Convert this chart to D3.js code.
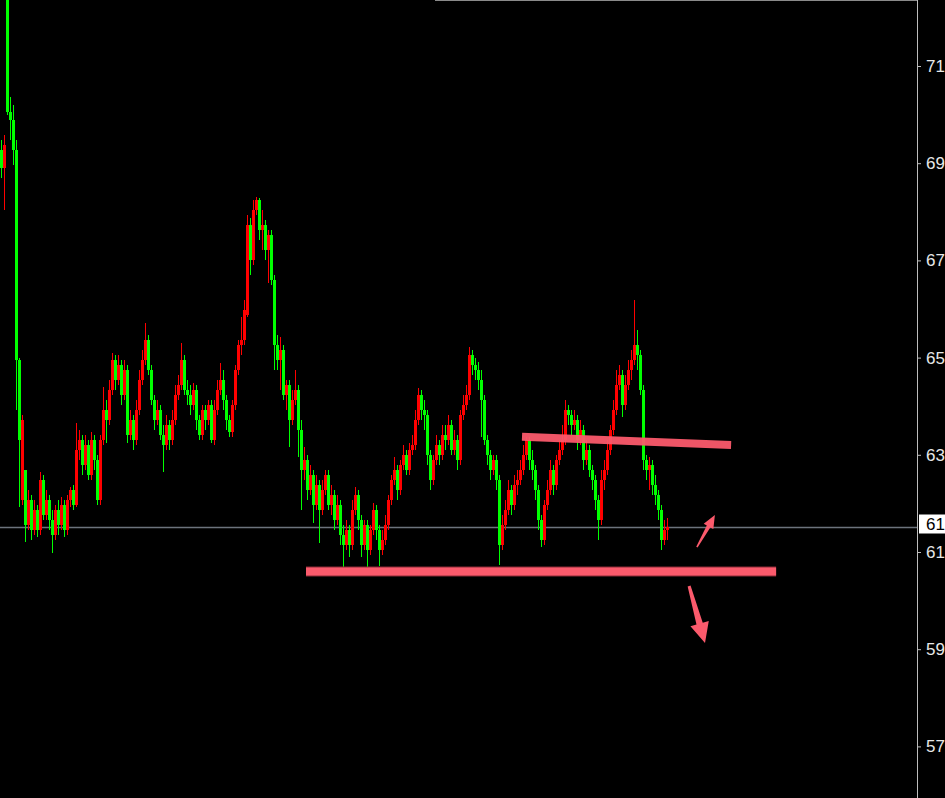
<!DOCTYPE html>
<html lang="en">
<head>
<meta charset="UTF-8">
<title>Chart</title>
<script src="https://cdn.jsdelivr.net/npm/d3@7"></script>
<style>
  * { margin: 0; padding: 0; }
  body { background: #000; overflow: hidden; }
  svg { display: block; }
</style>
</head>
<body>
<svg></svg>
<script>
// one bar per entry, oldest first
const open = [69.27,68.90,74.00,70.05,69.88,69.27,64.95,62.07,62.69,61.55,
  62.07,61.45,61.87,61.45,62.48,61.76,62.07,61.66,61.35,61.87,
  61.55,61.97,61.45,62.07,62.28,61.97,63.10,63.31,62.79,63.20,
  62.59,63.31,62.89,62.07,63.31,63.92,63.72,64.33,64.95,64.54,
  64.85,64.23,64.74,63.41,63.72,63.31,63.92,64.54,64.95,65.36,
  64.74,64.13,63.72,63.92,63.41,63.20,63.61,63.31,63.72,64.23,
  64.44,64.95,64.33,64.23,64.03,64.33,63.72,63.41,63.92,63.72,
  64.03,63.31,63.92,64.33,64.54,64.13,63.72,63.47,64.03,64.74,
  65.26,65.36,65.87,67.73,67.01,68.03,68.24,67.62,67.73,67.21,
  67.52,66.59,65.26,64.95,65.16,64.23,64.44,63.72,64.13,64.33,
  63.51,62.69,62.89,62.28,62.59,61.97,62.38,61.87,62.28,62.59,
  61.97,62.18,61.66,61.97,61.35,61.15,61.45,61.15,61.87,62.18,
  61.66,61.15,61.55,61.04,61.45,61.87,61.45,61.04,61.25,61.55,
  62.07,62.48,62.69,62.28,62.79,63.00,62.69,63.10,63.20,63.72,
  64.23,63.92,63.82,63.00,62.48,62.89,63.20,63.00,63.41,63.31,
  63.61,63.10,63.31,62.89,63.82,64.03,64.23,65.05,64.85,64.74,
  64.54,64.13,63.31,63.00,62.69,62.89,62.48,61.15,61.55,61.87,
  62.28,61.97,62.38,62.48,62.69,63.00,63.31,62.89,62.69,62.28,
  61.66,61.25,61.97,62.28,62.69,62.38,62.89,63.10,63.31,63.92,
  63.82,63.61,63.72,63.31,63.51,62.89,63.10,62.69,62.48,62.07,
  61.66,62.48,62.69,63.10,63.51,63.92,64.44,64.64,64.03,64.44,
  64.74,64.95,65.26,65.05,64.33,62.89,62.69,62.79,62.38,62.18,
  61.87,61.25,61.45];
const close = [68.90,69.37,70.05,69.88,69.27,64.95,63.31,63.72,61.55,62.07,
  61.45,61.87,61.45,62.48,61.76,62.07,61.66,61.35,61.87,61.55,
  61.97,61.45,62.07,62.28,61.97,63.10,63.31,62.79,63.20,62.59,
  63.31,62.89,62.07,63.31,63.92,63.72,64.33,64.95,64.54,64.85,
  64.23,64.74,63.41,63.72,63.31,63.92,64.54,64.95,65.36,64.74,
  64.13,63.72,63.92,63.41,63.20,63.61,63.31,63.72,64.23,64.44,
  64.95,64.33,64.23,64.03,64.33,63.72,63.41,63.92,63.72,64.03,
  63.31,63.92,64.33,64.54,64.13,63.72,63.47,64.03,64.74,65.26,
  65.36,65.98,67.73,67.01,68.03,68.24,67.62,67.73,67.21,67.52,
  66.59,65.26,64.95,65.16,64.23,64.44,63.72,64.13,64.33,63.51,
  62.69,62.89,62.28,62.59,61.97,62.38,61.87,62.28,62.59,61.97,
  62.18,61.66,61.97,61.35,61.15,61.45,61.15,61.87,62.18,61.66,
  61.15,61.55,61.04,61.45,61.87,61.45,61.04,61.25,61.55,62.07,
  62.48,62.69,62.28,62.79,63.00,62.69,63.10,63.20,63.72,64.23,
  63.92,63.82,63.00,62.48,62.89,63.20,63.00,63.41,63.31,63.61,
  63.10,63.31,62.89,63.82,64.03,64.23,65.05,64.85,64.74,64.54,
  64.13,63.31,63.00,62.69,62.89,62.48,61.15,61.55,61.87,62.28,
  61.97,62.38,62.48,62.69,63.00,63.31,62.89,62.69,62.28,61.66,
  61.25,61.97,62.28,62.69,62.38,62.89,63.10,63.31,63.92,63.82,
  63.61,63.72,63.31,63.51,62.89,63.10,62.69,62.48,62.07,61.66,
  62.48,62.69,63.10,63.51,63.92,64.44,64.64,64.03,64.44,64.74,
  64.95,65.26,65.05,64.33,62.89,62.69,62.79,62.38,62.18,61.87,
  61.25,61.45,61.51];
const high = [69.47,69.57,74.00,70.36,70.19,69.47,64.99,63.82,62.69,62.28,
  62.18,62.07,61.97,62.65,62.59,62.28,62.18,61.87,61.97,62.07,
  62.13,62.07,62.18,62.34,62.38,63.66,63.51,63.41,63.41,63.31,
  63.47,63.41,63.00,63.41,64.40,64.13,64.54,65.09,65.05,65.05,
  64.95,64.95,64.85,63.92,63.82,64.13,64.74,65.16,65.71,65.46,
  64.85,64.23,64.13,64.03,63.61,63.82,63.72,63.92,64.44,64.64,
  65.30,65.05,64.54,64.44,64.48,64.44,63.82,64.03,64.03,64.13,
  64.13,64.13,64.54,64.89,64.74,64.23,63.82,64.13,64.85,65.36,
  65.83,66.18,67.93,67.87,68.24,68.30,68.28,68.03,67.83,67.62,
  67.62,66.70,65.46,65.42,65.26,64.54,64.54,64.33,64.74,64.44,
  63.72,63.16,63.00,62.79,62.69,62.59,62.48,62.48,62.69,62.69,
  62.38,62.28,62.18,62.07,61.55,61.66,61.55,62.07,62.34,62.28,
  61.76,61.66,61.66,61.55,62.01,61.97,61.55,61.45,61.76,62.18,
  62.59,62.96,62.79,62.89,63.20,63.10,63.24,63.41,63.92,64.37,
  64.33,64.13,63.92,63.10,63.00,63.41,63.31,63.61,63.61,63.82,
  63.72,63.51,63.41,63.92,64.23,64.44,65.22,65.16,64.99,64.91,
  64.74,64.23,63.41,63.10,63.00,63.00,62.59,61.76,62.07,62.48,
  62.38,62.59,62.69,62.89,63.20,63.37,63.37,63.10,62.79,62.38,
  61.76,62.07,62.48,62.89,62.79,63.00,63.31,63.61,64.13,64.03,
  63.92,63.92,63.82,63.72,63.61,63.31,63.20,62.79,62.59,62.18,
  62.69,62.89,63.31,63.61,64.13,64.74,64.85,64.74,64.64,64.95,
  65.16,66.18,65.57,65.16,64.44,63.00,62.96,62.89,62.59,62.28,
  61.97,61.66,61.70];
const low = [68.69,68.03,69.99,69.47,68.96,63.92,61.93,61.97,61.21,61.45,
  61.25,61.35,61.31,61.35,61.66,61.66,61.45,60.98,61.25,61.35,
  61.45,61.31,61.35,61.93,61.87,61.93,62.89,62.59,62.69,62.48,
  62.48,62.69,61.97,61.97,63.20,63.24,63.61,64.23,64.33,64.44,
  64.03,64.13,63.24,63.31,63.10,63.20,63.82,64.44,64.85,64.64,
  64.03,63.51,63.61,63.31,62.65,63.10,63.10,63.20,63.61,64.13,
  64.33,64.23,64.03,63.82,63.92,63.51,63.31,63.31,63.51,63.61,
  63.24,63.20,63.82,64.23,63.92,63.51,63.37,63.37,63.92,64.64,
  65.05,65.26,65.83,66.70,66.90,67.93,67.42,67.21,67.01,66.53,
  66.49,64.74,64.74,64.33,64.13,63.92,63.16,63.61,64.03,62.96,
  61.87,62.48,62.07,62.18,61.60,61.87,61.19,61.76,62.18,61.87,
  61.76,61.45,61.55,61.15,60.53,61.04,60.90,61.04,61.76,61.45,
  60.90,61.04,60.70,60.94,61.35,61.25,60.72,60.94,61.15,61.45,
  61.97,62.38,62.07,62.18,62.69,62.59,62.59,63.00,63.10,63.61,
  63.72,63.51,62.79,62.28,62.38,62.79,62.79,62.89,63.10,63.20,
  63.00,63.00,62.69,62.79,63.72,63.92,64.13,64.64,64.54,64.33,
  63.37,63.20,62.79,62.48,62.59,62.28,60.74,61.04,61.45,61.76,
  61.76,61.87,62.18,62.38,62.59,62.89,62.69,62.48,62.07,61.45,
  61.11,61.15,61.87,62.18,62.18,62.28,62.79,63.00,63.20,63.61,
  63.41,63.51,63.10,63.20,62.69,62.79,62.55,62.28,61.87,61.25,
  61.55,62.28,62.59,63.00,63.41,63.82,64.33,63.78,63.92,64.33,
  64.54,64.85,64.74,64.23,62.69,62.48,62.28,62.18,61.97,61.66,
  61.04,61.15,61.25];

const yTicks = [57, 59, 61, 63, 65, 67, 69, 71];

// hand drawn marks, as [bar index, price]
const support = [[102, 60.60], [258.7, 60.60]];
const resistance = [[174, 63.37], [243.7, 63.20]];
const arrowUp = [[232.3, 61.10], [238.3, 61.76]];
const arrowDown = [[229.7, 60.30], [235, 59.13]];

const width = 945, height = 798, axisX = 917;
const svg = d3.select('svg').attr('width', width).attr('height', height);
svg.append('rect').attr('width', width).attr('height', height).attr('fill', '#000');

const N = close.length;
const x = d3.scaleLinear().domain([0, N]).range([0, N * 3]);
const y = d3.scaleLinear().domain([61, 71]).range([552, 66]);
const font = '17px "Liberation Sans", Arial, sans-serif';

// frame
svg.append('line').attr('x1', 435).attr('x2', axisX).attr('y1', 0.5).attr('y2', 0.5)
    .attr('stroke', '#8a8a8a');
svg.append('line').attr('x1', axisX + 0.5).attr('x2', axisX + 0.5).attr('y1', 0).attr('y2', height)
    .attr('stroke', '#bdbdbd');

// last price line
const last = close[N - 1];
const ly = Math.round(y(last)) + 0.5;
svg.append('line').attr('x1', 0).attr('x2', axisX).attr('y1', ly).attr('y2', ly)
    .attr('stroke', '#6c737c').attr('stroke-width', 1.5);

// candles (red = up, green = down)
const color = i => close[i] >= open[i] ? '#ff0000' : '#00ff00';
const plot = svg.append('g').attr('shape-rendering', 'crispEdges');
plot.selectAll('rect.wick').data(d3.range(N)).join('rect').attr('class', 'wick')
    .attr('x', i => x(i) + 1).attr('width', 1)
    .attr('y', i => y(high[i]))
    .attr('height', i => Math.max(1, y(low[i]) - y(high[i])))
    .attr('fill', color);
plot.selectAll('rect.body').data(d3.range(N)).join('rect').attr('class', 'body')
    .attr('x', i => x(i)).attr('width', 3)
    .attr('y', i => y(Math.max(open[i], close[i])))
    .attr('height', i => Math.max(1, Math.abs(y(open[i]) - y(close[i]))))
    .attr('fill', color);

// price axis
const axis = svg.append('g').attr('transform', `translate(${axisX},0)`)
    .call(d3.axisRight(y).tickValues(yTicks).tickSize(4).tickPadding(5).tickFormat(d3.format('d')));
axis.select('.domain').remove();
axis.selectAll('line').attr('stroke', '#bdbdbd');
axis.selectAll('text').attr('fill', '#e8e8e8').style('font', font);

// last price label (only the whole part fits in the margin)
svg.append('rect').attr('x', axisX + 2).attr('y', ly - 13).attr('width', width - axisX - 2).attr('height', 19)
    .attr('fill', '#fff');
svg.append('text').attr('x', axisX + 9).attr('y', ly - 3.5).attr('dy', '0.35em')
    .attr('fill', '#000').style('font', font)
    .text(Math.trunc(last));

// annotations
const pink = '#fb5a6c';
const pt = d => [x(d[0]), y(d[1])];
const drawLine = (seg, w, c) => svg.append('line')
    .attr('x1', pt(seg[0])[0]).attr('y1', pt(seg[0])[1])
    .attr('x2', pt(seg[1])[0]).attr('y2', pt(seg[1])[1])
    .attr('stroke', c).attr('stroke-width', w);
drawLine(support, 10, '#8a2a36');
drawLine(support, 8, pink);
drawLine(resistance, 8, pink).attr('opacity', 0.95);

function arrowPoints(seg, tailW, neckW, headW, headL) {
    const p0 = pt(seg[0]), p1 = pt(seg[1]);
    const dx = p1[0] - p0[0], dy = p1[1] - p0[1], len = Math.hypot(dx, dy);
    const ux = dx / len, uy = dy / len, nx = -uy, ny = ux;
    const bx = p1[0] - ux * headL, by = p1[1] - uy * headL;
    const P = (px, py, w) => [px + nx * w / 2, py + ny * w / 2];
    return [P(p0[0], p0[1], tailW), P(bx, by, neckW), P(bx, by, headW), p1,
        P(bx, by, -headW), P(bx, by, -neckW), P(p0[0], p0[1], -tailW)]
        .map(p => p.join(',')).join(' ');
}
svg.append('polygon').attr('points', arrowPoints(arrowUp, 1.5, 4, 11, 13)).attr('fill', pink);
svg.append('polygon').attr('points', arrowPoints(arrowDown, 3, 6.5, 19, 20)).attr('fill', pink);
</script>
</body>
</html>
